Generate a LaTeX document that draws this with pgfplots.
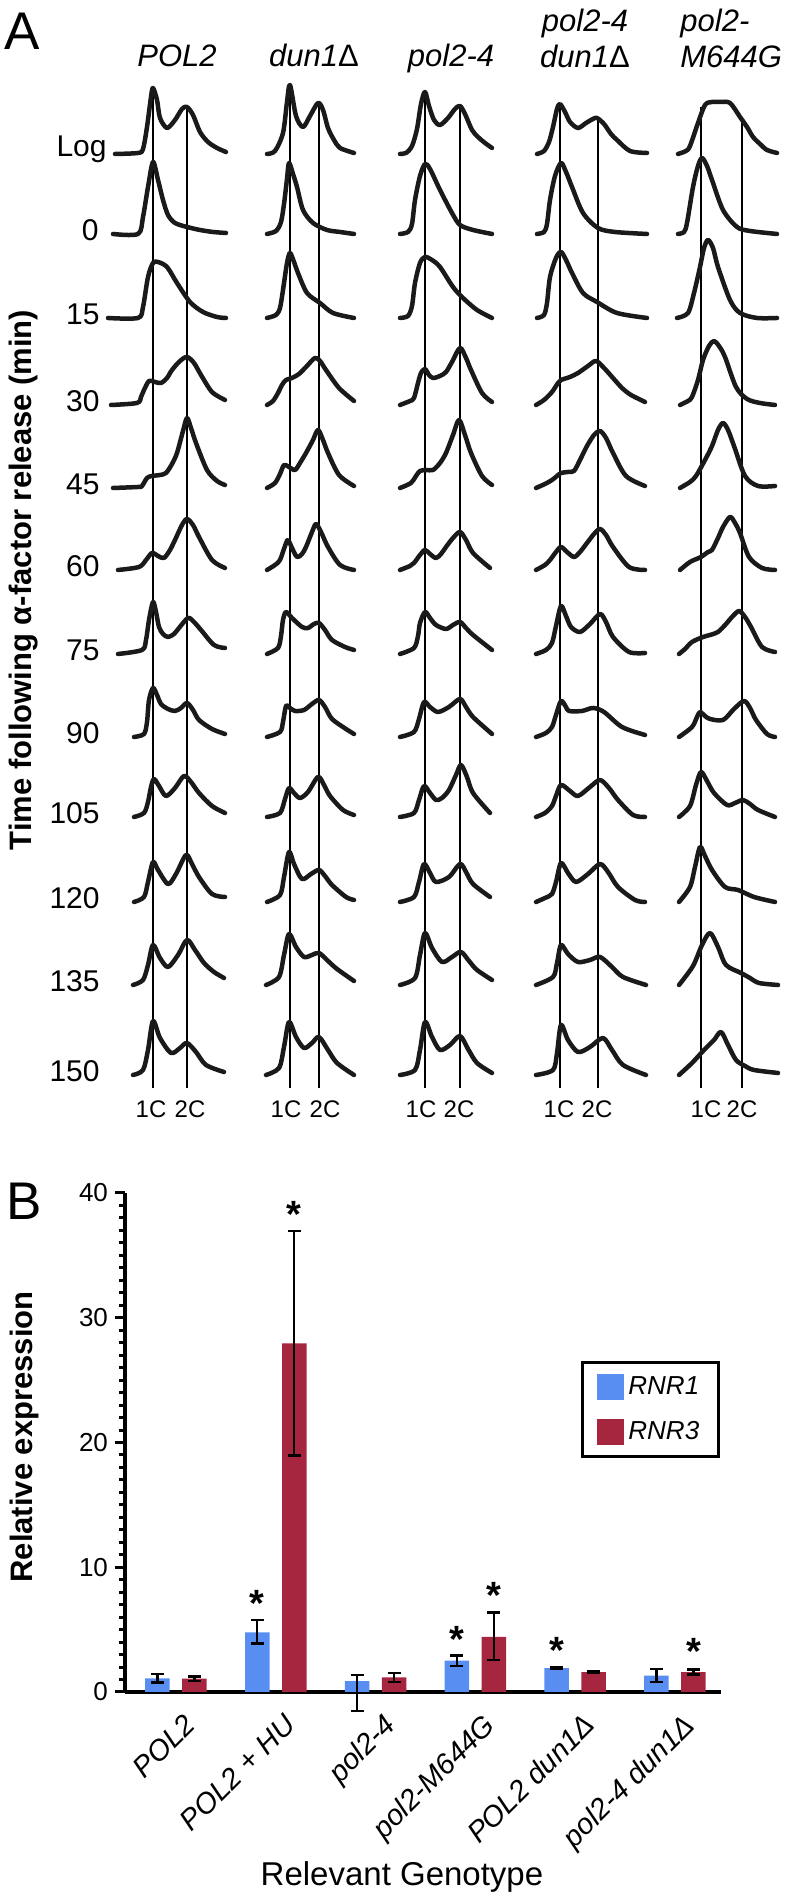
\documentclass[border=0pt]{standalone}
\usepackage{fontspec}
\setmainfont{Liberation Sans}
\usepackage{pgfplots}
\pgfplotsset{compat=1.18}
\definecolor{rnrblue}{RGB}{88,141,242}
\definecolor{rnrred}{RGB}{166,38,64}
\definecolor{ink}{RGB}{26,26,26}
\newcommand{\fs}[1]{\fontsize{#1}{#1}\selectfont}
\tikzset{cl/.style={anchor=base, inner sep=0pt, font=\fs{12}}}
\begin{document}
\begin{tikzpicture}
% ================= Panel A =================
\begin{axis}[
  at={(0,0)}, anchor=south west,
  width=394pt, height=949.5pt, scale only axis,
  xmin=0, xmax=788, ymin=-1899, ymax=0,
  hide axis, clip=false,
  curve/.style={line width=2.25pt, color=ink, smooth, tension=0.5, line join=round, line cap=round, mark=none},
  row/.style={y filter/.expression={y-#1}},
  gline/.style={line width=0.75pt, black, mark=none},
]
\path (axis cs:0,0) rectangle (axis cs:788,-1899);
% guide lines (1C / 2C)
\addplot[gline] coordinates {(153,-88)(153,-1088)};
\addplot[gline] coordinates {(187,-107)(187,-1088)};
\addplot[gline] coordinates {(290,-85)(290,-1088)};
\addplot[gline] coordinates {(319,-103)(319,-1088)};
\addplot[gline] coordinates {(425,-92)(425,-1088)};
\addplot[gline] coordinates {(460,-106)(460,-1088)};
\addplot[gline] coordinates {(560,-104)(560,-1088)};
\addplot[gline] coordinates {(598,-118)(598,-1088)};
\addplot[gline] coordinates {(701,-107)(701,-1088)};
\addplot[gline] coordinates {(742,-119)(742,-1088)};
% ---- Log (baseline 154)
\addplot[curve,row=154] coordinates {(115,0)(138,1)(143,5)(147,27)(151,57)(153,66)(157,54)(160,36)(167,26)(175,34)(182,45)(187,47)(193,39)(200,22)(208,12)(217,6)(226,2)};
\addplot[curve,row=154] coordinates {(267,0)(275,3)(283,21)(287,52)(290,69)(296,38)(303,27)(310,38)(318,51)(323,44)(328,26)(334,14)(340,6)(354,1)};
\addplot[curve,row=154] coordinates {(400,0)(406,1)(412,8)(417,25)(421,50)(425,62)(429,48)(434,34)(440,29)(448,36)(455,45)(460,48)(465,40)(472,24)(478,17)(485,11)(492,6)};
\addplot[curve,row=154] coordinates {(537,0)(544,3)(549,12)(553,27)(557,45)(560,50)(565,42)(570,32)(578,26)(586,31)(593,35)(597,36)(604,30)(611,20)(617,14)(630,3)(647,1)};
\addplot[curve,row=154] coordinates {(678,0)(686,3)(690,8)(698,31)(705,49)(712,52)(720,52)(730,51)(740,37)(747,27)(753,17)(760,10)(767,4)(777,1)};
% ---- 0 (baseline 234)
\addplot[curve,row=234] coordinates {(113,0)(138,0)(143,17)(148,47)(153,72)(158,54)(163,34)(168,19)(175,11)(187,7)(200,4)(213,2)(226,1)};
\addplot[curve,row=234] coordinates {(267,0)(276,3)(281,12)(284,30)(287,55)(289,71)(293,60)(297,47)(303,24)(313,11)(327,4)(340,2)(354,0)};
\addplot[curve,row=234] coordinates {(400,0)(408,2)(412,10)(415,34)(420,58)(425,70)(430,65)(440,44)(452,21)(460,9)(473,4)(492,0)};
\addplot[curve,row=234] coordinates {(537,0)(544,2)(547,10)(550,34)(555,58)(561,71)(566,62)(572,47)(583,21)(598,6)(615,2)(647,0)};
\addplot[curve,row=234] coordinates {(678,0)(684,2)(687,11)(693,47)(698,68)(702,76)(707,68)(712,54)(723,24)(737,7)(750,3)(777,0)};
% ---- 15 (baseline 318)
\addplot[curve,row=318] coordinates {(108,0)(138,0)(143,11)(148,41)(153,55)(158,56)(167,51)(177,35)(190,16)(203,6)(217,1)(226,0)};
\addplot[curve,row=318] coordinates {(267,0)(276,3)(280,10)(283,28)(287,55)(290,65)(294,56)(298,45)(307,25)(320,15)(333,5)(354,0)};
\addplot[curve,row=318] coordinates {(400,0)(408,2)(412,12)(415,35)(420,55)(425,61)(432,58)(440,51)(453,31)(463,20)(477,8)(492,0)};
\addplot[curve,row=318] coordinates {(537,0)(544,3)(547,15)(550,41)(556,60)(561,66)(566,58)(572,45)(583,25)(597,16)(617,5)(647,0)};
\addplot[curve,row=318] coordinates {(677,0)(688,5)(694,25)(700,51)(704,70)(708,78)(713,70)(718,51)(730,18)(740,5)(757,0)(777,0)};
% ---- 30 (baseline 405)
\addplot[curve,row=405] coordinates {(111,0)(137,2)(141,8)(144,15)(149,24)(155,23)(161,22)(167,27)(172,35)(180,44)(187,48)(194,42)(201,30)(212,13)(225,5)};
\addplot[curve,row=405] coordinates {(267,0)(273,4)(278,12)(282,20)(286,25)(292,27)(299,31)(306,38)(315,47)(320,44)(326,35)(339,17)(354,4)};
\addplot[curve,row=405] coordinates {(400,0)(410,4)(414,7)(418,22)(421,32)(425,36)(429,30)(433,27)(440,29)(446,33)(452,43)(460,57)(466,47)(471,35)(482,12)(492,3)};
\addplot[curve,row=405] coordinates {(536,0)(544,5)(552,13)(558,22)(561,25)(570,28)(578,32)(588,39)(596,44)(604,37)(613,27)(622,17)(631,10)(645,3)};
\addplot[curve,row=405] coordinates {(680,0)(688,4)(692,8)(698,25)(703,45)(709,59)(714,64)(719,59)(725,48)(736,18)(747,6)(760,2)(775,0)};
% ---- 45 (baseline 488)
\addplot[curve,row=488] coordinates {(113,0)(138,1)(142,2)(147,10)(152,12)(160,13)(166,15)(172,24)(177,35)(183,57)(187,70)(191,60)(196,45)(207,18)(217,7)(225,3)};
\addplot[curve,row=488] coordinates {(267,0)(275,5)(280,14)(284,23)(289,21)(295,18)(300,25)(306,35)(313,48)(318,58)(323,48)(328,35)(339,13)(354,2)};
\addplot[curve,row=488] coordinates {(400,0)(411,5)(416,12)(420,17)(426,18)(433,18)(440,25)(446,35)(453,53)(459,68)(465,53)(471,35)(482,12)(492,3)};
\addplot[curve,row=488] coordinates {(536,0)(545,4)(552,8)(557,12)(561,15)(568,16)(574,17)(580,28)(587,42)(594,53)(600,57)(606,50)(613,35)(626,12)(645,2)};
\addplot[curve,row=488] coordinates {(680,0)(690,6)(696,12)(705,28)(712,42)(718,58)(723,65)(728,58)(734,42)(745,12)(758,2)(775,2)};
% ---- 60 (baseline 570)
\addplot[curve,row=570] coordinates {(118,0)(139,3)(146,10)(152,17)(158,14)(164,12)(170,20)(175,30)(182,45)(187,51)(193,45)(199,33)(212,10)(225,2)};
\addplot[curve,row=570] coordinates {(267,0)(275,5)(280,10)(285,24)(288,30)(292,22)(297,13)(302,16)(306,23)(312,38)(316,46)(321,38)(328,23)(340,5)(354,0)};
\addplot[curve,row=570] coordinates {(400,0)(410,4)(414,7)(420,15)(425,20)(430,16)(436,12)(441,16)(446,23)(453,32)(460,38)(466,30)(473,17)(490,2)};
\addplot[curve,row=570] coordinates {(536,0)(545,5)(550,10)(556,18)(561,23)(567,18)(574,13)(580,18)(587,27)(594,36)(600,41)(606,35)(613,23)(629,3)(645,0)};
\addplot[curve,row=570] coordinates {(680,0)(690,8)(701,13)(708,18)(712,20)(718,32)(723,43)(730,53)(735,47)(740,37)(749,13)(762,2)(775,0)};
% ---- 75 (baseline 654)
\addplot[curve,row=654] coordinates {(118,0)(142,4)(146,14)(149,34)(153,52)(156,42)(159,27)(163,20)(168,17)(174,20)(179,26)(188,36)(194,32)(201,24)(214,9)(225,6)};
\addplot[curve,row=654] coordinates {(267,0)(278,6)(281,18)(283,34)(286,42)(292,36)(302,27)(308,26)(314,30)(319,31)(325,24)(332,14)(345,7)(354,4)};
\addplot[curve,row=654] coordinates {(400,0)(414,6)(418,18)(420,31)(425,42)(430,36)(436,29)(446,25)(453,29)(460,32)(466,26)(473,19)(492,4)};
\addplot[curve,row=654] coordinates {(536,0)(546,4)(552,11)(556,28)(561,48)(566,38)(571,27)(580,22)(590,30)(600,40)(606,32)(613,17)(629,2)(645,1)};
\addplot[curve,row=654] coordinates {(679,0)(685,5)(692,12)(703,17)(710,19)(718,22)(726,30)(732,37)(739,43)(745,37)(751,27)(762,7)(775,2)};
% ---- 90 (baseline 737)
\addplot[curve,row=737] coordinates {(134,0)(144,3)(147,15)(149,37)(153,49)(157,42)(161,33)(168,28)(175,26)(181,29)(187,34)(193,27)(199,17)(212,8)(225,3)};
\addplot[curve,row=737] coordinates {(267,0)(280,5)(283,15)(286,31)(290,29)(295,26)(304,27)(312,33)(319,37)(325,30)(332,18)(346,8)(354,3)};
\addplot[curve,row=737] coordinates {(400,0)(414,5)(419,18)(424,35)(430,30)(438,25)(449,30)(460,38)(466,30)(473,20)(492,3)};
\addplot[curve,row=737] coordinates {(536,0)(546,4)(552,10)(556,22)(561,36)(566,30)(569,26)(582,26)(593,29)(604,25)(622,10)(645,2)};
\addplot[curve,row=737] coordinates {(679,0)(692,10)(697,20)(700,25)(705,21)(710,18)(723,17)(734,28)(744,36)(750,29)(756,17)(767,3)(775,0)};
% ---- 105 (baseline 817)
\addplot[curve,row=817] coordinates {(134,0)(144,4)(148,15)(151,30)(154,38)(159,31)(166,21)(175,29)(184,41)(191,35)(199,24)(212,11)(225,4)};
\addplot[curve,row=817] coordinates {(267,0)(280,4)(285,18)(289,29)(294,24)(300,19)(308,25)(318,40)(324,32)(330,21)(343,7)(354,2)};
\addplot[curve,row=817] coordinates {(400,0)(414,4)(419,17)(424,31)(430,24)(436,17)(442,19)(449,27)(456,42)(461,52)(467,40)(473,24)(490,4)};
\addplot[curve,row=817] coordinates {(536,0)(545,4)(552,11)(556,21)(561,32)(570,26)(578,21)(590,30)(600,37)(609,29)(618,17)(633,2)(645,0)};
\addplot[curve,row=817] coordinates {(679,0)(690,11)(696,32)(701,45)(707,36)(714,24)(727,12)(735,14)(743,17)(750,13)(758,7)(775,0)};
% ---- 120 (baseline 902)
\addplot[curve,row=902] coordinates {(134,0)(144,5)(148,20)(153,40)(158,32)(168,18)(176,28)(186,47)(192,38)(199,25)(212,8)(225,5)};
\addplot[curve,row=902] coordinates {(267,0)(280,7)(284,25)(289,50)(294,38)(302,23)(311,28)(319,32)(325,26)(332,17)(346,5)(354,2)};
\addplot[curve,row=902] coordinates {(400,0)(414,5)(419,20)(424,38)(430,29)(436,20)(449,25)(460,38)(466,30)(473,18)(490,5)};
\addplot[curve,row=902] coordinates {(536,0)(545,4)(552,8)(556,20)(561,39)(568,29)(576,20)(588,28)(600,38)(608,30)(618,15)(635,2)(645,0)};
\addplot[curve,row=902] coordinates {(679,0)(690,15)(695,35)(700,55)(705,46)(712,32)(725,15)(738,12)(754,5)(775,0)};
% ---- 135 (baseline 985)
\addplot[curve,row=985] coordinates {(133,0)(143,5)(148,20)(153,40)(160,27)(168,18)(178,30)(187,45)(195,35)(204,22)(214,13)(224,7)};
\addplot[curve,row=985] coordinates {(266,0)(279,8)(284,30)(289,51)(296,38)(304,28)(312,30)(319,32)(328,24)(337,16)(354,4)};
\addplot[curve,row=985] coordinates {(400,0)(415,7)(420,30)(425,52)(432,37)(442,23)(452,28)(461,33)(469,24)(477,15)(492,5)};
\addplot[curve,row=985] coordinates {(536,0)(553,8)(557,22)(561,40)(568,31)(578,23)(590,25)(600,28)(612,18)(623,8)(646,0)};
\addplot[curve,row=985] coordinates {(679,0)(693,19)(702,40)(710,52)(718,38)(726,20)(741,12)(750,7)(759,2)(778,0)};
% ---- 150 (baseline 1075)
\addplot[curve,row=1075] coordinates {(133,0)(143,5)(148,25)(153,54)(160,37)(171,22)(180,27)(187,32)(196,23)(206,10)(224,3)};
\addplot[curve,row=1075] coordinates {(266,0)(279,7)(284,28)(289,53)(296,38)(304,27)(312,32)(319,38)(328,25)(337,12)(354,0)};
\addplot[curve,row=1075] coordinates {(400,0)(415,5)(420,25)(425,53)(432,38)(440,25)(450,30)(460,39)(468,26)(477,12)(492,2)};
\addplot[curve,row=1075] coordinates {(536,0)(553,5)(557,22)(561,50)(568,35)(578,23)(590,28)(603,37)(612,25)(623,10)(646,0)};
\addplot[curve,row=1075] coordinates {(679,0)(692,12)(704,25)(714,35)(721,43)(728,30)(736,15)(745,9)(754,5)(778,2)};
% ---- text of panel A
\node[anchor=base west, inner sep=0pt, font=\fs{26.5}] at (axis cs:4,-50) {A};
\node[anchor=base, inner sep=0pt, font=\itshape\fs{15.5}] at (axis cs:177,-67) {POL2};
\node[anchor=base, inner sep=0pt, font=\itshape\fs{15.5}] at (axis cs:314,-67) {dun1{\upshape Δ}};
\node[anchor=base, inner sep=0pt, font=\itshape\fs{15.5}] at (axis cs:451,-67) {pol2-4};
\node[anchor=base, inner sep=0pt, font=\itshape\fs{15.5}] at (axis cs:585,-32) {pol2-4};
\node[anchor=base, inner sep=0pt, font=\itshape\fs{15.5}] at (axis cs:585,-68) {dun1{\upshape Δ}};
\node[anchor=base west, inner sep=0pt, font=\itshape\fs{15.5}] at (axis cs:680,-32) {pol2-};
\node[anchor=base west, inner sep=0pt, font=\itshape\fs{15.5}] at (axis cs:680,-68) {M644G};
\node[anchor=base east, inner sep=0pt, font=\fs{15}] at (axis cs:107,-157) {Log};
\node[anchor=base east, inner sep=0pt, font=\fs{15}] at (axis cs:99,-241) {0};
\node[anchor=base east, inner sep=0pt, font=\fs{15}] at (axis cs:100,-325) {15};
\node[anchor=base east, inner sep=0pt, font=\fs{15}] at (axis cs:100,-412) {30};
\node[anchor=base east, inner sep=0pt, font=\fs{15}] at (axis cs:100,-495) {45};
\node[anchor=base east, inner sep=0pt, font=\fs{15}] at (axis cs:100,-577) {60};
\node[anchor=base east, inner sep=0pt, font=\fs{15}] at (axis cs:100,-661) {75};
\node[anchor=base east, inner sep=0pt, font=\fs{15}] at (axis cs:100,-744) {90};
\node[anchor=base east, inner sep=0pt, font=\fs{15}] at (axis cs:100,-824) {105};
\node[anchor=base east, inner sep=0pt, font=\fs{15}] at (axis cs:100,-909) {120};
\node[anchor=base east, inner sep=0pt, font=\fs{15}] at (axis cs:100,-992) {135};
\node[anchor=base east, inner sep=0pt, font=\fs{15}] at (axis cs:100,-1082) {150};
\node[rotate=90, inner sep=0pt, font=\bfseries\fs{15.5}] at (axis cs:24,-580) {Time following α-factor release (min)};
\node[cl] at (axis cs:151,-1118) {1C};
\node[cl] at (axis cs:190,-1118) {2C};
\node[cl] at (axis cs:286,-1118) {1C};
\node[cl] at (axis cs:325,-1118) {2C};
\node[cl] at (axis cs:421,-1118) {1C};
\node[cl] at (axis cs:459,-1118) {2C};
\node[cl] at (axis cs:559,-1118) {1C};
\node[cl] at (axis cs:597,-1118) {2C};
\node[cl] at (axis cs:706,-1118) {1C};
\node[cl] at (axis cs:742,-1118) {2C};
% ---- text around panel B
\node[anchor=base west, inner sep=0pt, font=\fs{26.5}] at (axis cs:6,-1220) {B};
\node[rotate=90, inner sep=0pt, font=\bfseries\fs{15.5}] at (axis cs:24,-1437) {Relative expression};
\node[anchor=base, inner sep=0pt, font=\fs{16.5}] at (axis cs:402,-1886) {Relevant Genotype};
\end{axis}
% ================= Panel B =================
\begin{axis}[
  at={(62.5pt,103.5pt)}, anchor=south west,
  width=298pt, height=249.5pt, scale only axis,
  xmin=-0.511, xmax=5.461, ymin=0, ymax=40,
  axis x line=bottom, axis y line=left,
  axis line style={line width=2pt,-},
  ybar, bar width=12.25pt,
  xtick={0,1,2,3,4,5},
  xticklabels={POL2, POL2 + HU, pol2-4, pol2-M644G, POL2 dun1Δ, pol2-4 dun1Δ},
  x tick label style={rotate=45, anchor=north east, font=\itshape\fs{14.5}, xshift=2.25pt, yshift=-2.5pt},
  major x tick style={draw=none},
  ytick={0,10,20,30,40}, minor y tick num=9,
  tick align=outside,
  major tick length=5pt, minor tick length=3pt,
  every tick/.style={black, line width=1.5pt},
  y tick label style={font=\fs{13}},
  /pgf/number format/assume math mode=true,
  clip=false,
  legend style={at={(0.765,0.663)}, anchor=north west, draw=black, line width=1.5pt,
    font=\itshape\fs{13}, inner xsep=7.5pt, inner ysep=5pt, row sep=8pt, cells={anchor=west}},
  legend image code/.code={\fill[#1,draw=none] (0pt,-6.5pt) rectangle (13.5pt,6.5pt);},
  error bars/y dir=both, error bars/y explicit,
  error bars/error bar style={line width=1.2pt, black},
  error bars/error mark options={rotate=90, mark size=3.25pt, line width=1.2pt, black},
]
\addplot[fill=rnrblue, draw=none, bar shift=-9.25pt] coordinates {
  (0,1.10) += (0,0.33) -= (0,0.33)
  (1,4.78) += (0,0.97) -= (0,0.88)
  (2,0.88) += (0,0.46) -= (0,2.38)
  (3,2.51) += (0,0.43) -= (0,0.43)
  (4,1.92) += (0,0.10) -= (0,0.10)
  (5,1.31) += (0,0.51) -= (0,0.51)
};
\addlegendentry{RNR1}
\addplot[fill=rnrred, draw=none, bar shift=9.25pt] coordinates {
  (0,1.07) += (0,0.17) -= (0,0.17)
  (1,27.95) += (0,9.0) -= (0,9.0)
  (2,1.17) += (0,0.35) -= (0,0.35)
  (3,4.41) += (0,1.95) -= (0,1.85)
  (4,1.60) += (0,0.07) -= (0,0.07)
  (5,1.60) += (0,0.20) -= (0,0.20)
};
\addlegendentry{RNR3}
\node[anchor=north, inner sep=0pt, font=\bfseries\fs{19}, xshift=-9.25pt] at (axis cs:1,8.18) {*};
\node[anchor=north, inner sep=0pt, font=\bfseries\fs{19}, xshift=9.25pt] at (axis cs:1,39.4) {*};
\node[anchor=north, inner sep=0pt, font=\bfseries\fs{19}, xshift=-9.25pt] at (axis cs:3,5.29) {*};
\node[anchor=north, inner sep=0pt, font=\bfseries\fs{19}, xshift=9.25pt] at (axis cs:3,8.84) {*};
\node[anchor=north, inner sep=0pt, font=\bfseries\fs{19}, xshift=-9.25pt] at (axis cs:4,4.43) {*};
\node[anchor=north, inner sep=0pt, font=\bfseries\fs{19}, xshift=9.25pt] at (axis cs:5,4.33) {*};
\end{axis}
\end{tikzpicture}
\end{document}
